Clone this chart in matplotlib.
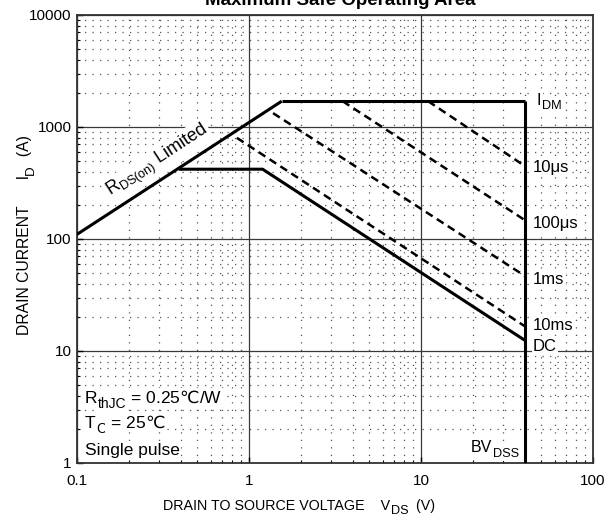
import numpy as np
import matplotlib
matplotlib.use('Agg')
import matplotlib.pyplot as plt
from matplotlib.ticker import LogLocator, FixedLocator, NullFormatter

plt.rcParams['font.family'] = ['Liberation Sans', 'DejaVu Sans']
plt.rcParams['mathtext.fontset'] = 'custom'
plt.rcParams['mathtext.rm'] = 'Liberation Sans'
plt.rcParams['mathtext.it'] = 'Liberation Sans'
plt.rcParams['mathtext.sf'] = 'Noto Sans CJK SC'
plt.rcParams['mathtext.default'] = 'regular'

# safe operating area boundaries (V, A)
rds_v = [0.1, 1.55]
rds_i = [110, 1700]
idm_v = [1.55, 40]
idm_i = [1700, 1700]
bv_v = [40, 40]
bv_i = [1700, 1]
dc_v = [0.39, 1.2, 40]
dc_i = [420, 420, 12.5]

# pulse lines (dashed)
pulse_labels = ['10\u03bcs', '100\u03bcs', '1ms', '10ms']
pulse_v = [[11, 40], [3.5, 40], [1.38, 40], [0.85, 40]]
pulse_i = [[1700, 450], [1700, 148], [1330, 47], [800, 16.7]]
pulse_label_i = [396, 125, 39.6, 15.4]

x_ticks = [0.1, 1, 10, 100]
x_ticklabels = ['0.1', '1', '10', '100']
y_ticks = [1, 10, 100, 1000, 10000]
y_ticklabels = ['1', '10', '100', '1000', '10000']

wbox = dict(facecolor='white', edgecolor='none', pad=1)


# text with a subscript that is larger than mathtext's, built from pieces
def sub_text(ax, x, y, main, sub, rest='', size=12, transform=None, rot=0, box=True, sscale=0.8):
    if transform is None:
        transform = ax.transData
    kw = dict(fontsize=size, zorder=5)
    if box:
        kw['bbox'] = wbox
    ssize = size * sscale
    drop = size * 0.28
    if rot == 0:
        t0 = ax.text(x, y, main, ha='left', va='baseline', transform=transform, **kw)
        kw['fontsize'] = ssize
        t1 = ax.annotate(sub, xy=(1, 0), xycoords=t0, xytext=(0.3, -drop),
                         textcoords='offset points', ha='left', va='bottom', **kw)
        kw['fontsize'] = size
        if rest:
            ax.annotate(rest, xy=(1, 0), xycoords=(t1, t0), ha='left', va='bottom', **kw)
    else:
        t0 = ax.text(x, y, main, ha='right', va='bottom', rotation=90,
                     transform=transform, **kw)
        kw['fontsize'] = ssize
        t1 = ax.annotate(sub, xy=(1, 1), xycoords=t0, xytext=(drop, 0.3),
                         textcoords='offset points', ha='right', va='bottom', rotation=90, **kw)
        kw['fontsize'] = size
        if rest:
            ax.annotate(rest, xy=(1, 1), xycoords=(t0, t1), ha='right', va='bottom',
                        rotation=90, **kw)


fig = plt.figure(figsize=(6.12, 5.2), dpi=100)
ax = fig.add_axes([77/612, 1-463/520, (593-77)/612, (463-15)/520])
ax.set_xscale('log')
ax.set_yscale('log')
ax.set_xlim(0.1, 100)
ax.set_ylim(1, 10000)

# grid: solid decades, dotted minors
ax.grid(True, which='major', color='#3a3a3a', lw=0.9, ls='-')
ax.grid(True, which='minor', color='#555555', lw=0.9, ls=(0, (1, 5)))
ax.set_axisbelow(True)

ax.xaxis.set_major_locator(FixedLocator(x_ticks))
ax.set_xticklabels(x_ticklabels)
ax.yaxis.set_major_locator(FixedLocator(y_ticks))
ax.set_yticklabels(y_ticklabels)
ax.xaxis.set_minor_locator(LogLocator(base=10, subs=np.arange(2, 10)))
ax.yaxis.set_minor_locator(LogLocator(base=10, subs=np.arange(2, 10)))
ax.xaxis.set_minor_formatter(NullFormatter())
ax.yaxis.set_minor_formatter(NullFormatter())
ax.tick_params(which='both', direction='in', labelsize=11, top=False, right=False)
ax.tick_params(which='major', length=4, width=1)
ax.tick_params(which='minor', length=2.5, width=0.8)
ax.tick_params(axis='x', pad=8)
ax.tick_params(axis='y', pad=4)
for s in ax.spines.values():
    s.set_linewidth(1.3)
    s.set_color('#333333')

solid = dict(color='black', lw=2.2, solid_capstyle='butt', zorder=4)
ax.plot(rds_v, rds_i, **solid)
ax.plot(idm_v, idm_i, **solid)
ax.plot(bv_v, bv_i, **solid)
ax.plot(dc_v, dc_i, **solid)
for v, i in zip(pulse_v, pulse_i):
    ax.plot(v, i, color='black', lw=1.8, ls=(0, (3.2, 2.0)), zorder=4)

lab_x = 44.8
for lab, yi in zip(pulse_labels, pulse_label_i):
    ax.text(lab_x, yi, lab, fontsize=12, va='baseline', ha='left', bbox=wbox, zorder=5)
ax.text(lab_x, 10, 'DC', fontsize=12, va='baseline', ha='left', bbox=wbox, zorder=5)
sub_text(ax, 47, 1572, 'I', 'DM', size=11.5)
sub_text(ax, 19.5, 1.25, 'BV', 'DSS', size=11.5)

ax.text(0.296, 500, 'R$_{DS(on)}$ Limited', fontsize=13, rotation=33.1,
        rotation_mode='anchor', ha='center', va='center', bbox=wbox, zorder=5)

sub_text(ax, 0.0155, 0.134, 'R', 'thJC', ' = 0.25$\\mathsf{\u2103}$/W', size=12.5,
         transform=ax.transAxes)
sub_text(ax, 0.0155, 0.078, 'T', 'C', ' = 25$\\mathsf{\u2103}$', size=12.5,
         transform=ax.transAxes)
ax.text(0.0155, 0.018, 'Single pulse', transform=ax.transAxes,
        fontsize=12.5, va='baseline', ha='left', bbox=wbox, zorder=5)

# axis titles
sub_text(ax, 163/612, 1-510/520, 'DRAIN TO SOURCE VOLTAGE    V', 'DS', '  (V)',
         size=10.3, transform=fig.transFigure, box=False, sscale=0.88)
sub_text(ax, 32/612, 1-335/520, 'DRAIN CURRENT      I', 'D', '  (A)',
         size=11.3, transform=fig.transFigure, rot=90, box=False, sscale=0.85)

fig.text(340/612, 1-5/520, 'Maximum Safe Operating Area', fontsize=13.5,
         fontweight='bold', ha='center', va='baseline')

fig.savefig('out.png', dpi=100)
